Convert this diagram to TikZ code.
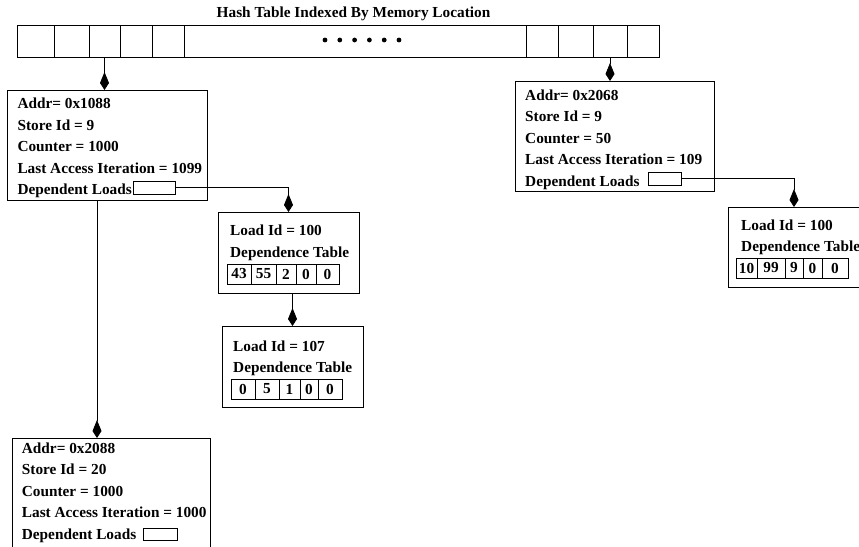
\documentclass[tikz,border=0pt]{standalone}
\usepackage{fontspec}
\setmainfont{Liberation Serif}
\usetikzlibrary{arrows.meta}
\newcommand{\lblfont}{\fontsize{15.3}{18}\selectfont\bfseries}

\tikzset{
  box/.style={draw, line width=0.8pt, inner sep=0pt, outer sep=0pt, anchor=north west},
  slot/.style={draw, line width=0.8pt, inner sep=0pt, outer sep=0pt, anchor=north west},
  tcell/.style={draw, line width=0.8pt, inner sep=0pt, outer sep=0pt, minimum height=20pt, font=\lblfont},
  txt/.style={anchor=base west, inner sep=0pt, font=\lblfont},
  link/.style={draw, line width=0.8pt},
  ptr/.style={link, -{Kite[length=18pt,width=9pt,inset=11pt]}},
}

\begin{document}
\begin{tikzpicture}[x=1pt,y=-1pt]
\useasboundingbox (0,0) rectangle (859,546);

% title of the hash table
\node[anchor=base, inner sep=0pt, font=\lblfont] (title) at (353.5,17) {Hash Table Indexed By Memory Location};

% hash table slots
\node[slot, minimum width=37pt, minimum height=32pt] (c1) at (17,25) {};
\node[slot, minimum width=35pt, minimum height=32pt] (c2) at (54,25) {};
\node[slot, minimum width=31pt, minimum height=32pt] (c3) at (89,25) {};
\node[slot, minimum width=32pt, minimum height=32pt] (c4) at (120,25) {};
\node[slot, minimum width=32pt, minimum height=32pt] (c5) at (152,25) {};
\node[slot, minimum width=342pt, minimum height=32pt] (mid) at (184,25) {};
\node[slot, minimum width=32pt, minimum height=32pt] (c6) at (526,25) {};
\node[slot, minimum width=35pt, minimum height=32pt] (c7) at (558,25) {};
\node[slot, minimum width=34pt, minimum height=32pt] (c8) at (593,25) {};
\node[slot, minimum width=32pt, minimum height=32pt] (c9) at (627,25) {};
\foreach \i in {0,...,5}
  \fill (325+14.8*\i,40) circle (2.4pt);

% store entries
\node[box, minimum width=200pt, minimum height=110pt] (b1) at (7,90) {};
\node[txt] (b1a) at (17.3,108.7) {Addr= 0x1088};
\node[txt] (b1b) at (17.3,130.2) {Store Id = 9};
\node[txt] (b1c) at (17.3,151.7) {Counter = 1000};
\node[txt] (b1d) at (17.3,173.2) {Last Access Iteration = 1099};
\node[txt] (b1e) at (17.3,194.7) {Dependent Loads};
\node[box, minimum width=42pt, minimum height=13pt] (d1) at (133,181) {};

\node[box, minimum width=199pt, minimum height=110pt] (b2) at (515,81) {};
\node[txt] (b2a) at (525,100.3) {Addr= 0x2068};
\node[txt] (b2b) at (525,121.8) {Store Id = 9};
\node[txt] (b2c) at (525,143.3) {Counter = 50};
\node[txt] (b2d) at (525,164.8) {Last Access Iteration = 109};
\node[txt] (b2e) at (525,186.3) {Dependent Loads};
\node[box, minimum width=33pt, minimum height=13pt] (d2) at (648,172) {};

\node[box, minimum width=198pt, minimum height=112pt] (b4) at (12,438) {};
\node[txt] (b4a) at (21.7,453.3) {Addr= 0x2088};
\node[txt] (b4b) at (21.7,474.8) {Store Id = 20};
\node[txt] (b4c) at (21.7,496.3) {Counter = 1000};
\node[txt] (b4d) at (21.7,517.8) {Last Access Iteration = 1000};
\node[txt] (b4e) at (21.7,539.3) {Dependent Loads};
\node[box, minimum width=34pt, minimum height=12pt] (d4) at (143,528) {};

% load entries
\node[box, minimum width=141pt, minimum height=81pt] (l1) at (218,212) {};
\node[txt] (l1a) at (230,235) {Load Id = 100};
\node[txt] (l1b) at (230,257) {Dependence Table};
\node[tcell, minimum width=24pt] (t1a) at (239,274) {43};
\node[tcell, minimum width=25pt] (t1b) at (263.5,274) {55};
\node[tcell, minimum width=20pt] (t1c) at (286,274) {2};
\node[tcell, minimum width=20pt] (t1d) at (306,274) {0};
\node[tcell, minimum width=23pt] (t1e) at (327.5,274) {0};

\node[box, minimum width=141pt, minimum height=81pt] (l2) at (222,326) {};
\node[txt] (l2a) at (233,351) {Load Id = 107};
\node[txt] (l2b) at (233,372) {Dependence Table};
\node[tcell, minimum width=24pt] (t2a) at (243,389) {0};
\node[tcell, minimum width=24pt] (t2b) at (267,389) {5};
\node[tcell, minimum width=21pt] (t2c) at (289.5,389) {1};
\node[tcell, minimum width=18pt] (t2d) at (309,389) {0};
\node[tcell, minimum width=24pt] (t2e) at (330,389) {0};

\node[box, minimum width=150pt, minimum height=80pt] (l3) at (728,207) {};
\node[txt] (l3a) at (741,230.5) {Load Id = 100};
\node[txt] (l3b) at (741,251.5) {Dependence Table};
\node[tcell, minimum width=21pt] (t3a) at (746.5,268) {10};
\node[tcell, minimum width=28pt] (t3b) at (771,268) {99};
\node[tcell, minimum width=18pt] (t3c) at (794,268) {9};
\node[tcell, minimum width=19pt] (t3d) at (812.5,268) {0};
\node[tcell, minimum width=26pt] (t3e) at (835,268) {0};

% pointers
\coordinate (j1) at (97,200);
\coordinate (k3) at (794,207);
\draw[ptr] (c3.south) -- (c3.south |- b1.north);
\draw[ptr] (c8.south) -- (c8.south |- b2.north);
\draw[ptr] (d1.east) -| (l1.north);
\draw[ptr] (l1.south -| l2.north) -- (l2.north);
\draw[ptr] (j1) -- (j1 |- b4.north);
\draw[ptr] (d2.east) -| (k3);
\end{tikzpicture}
\end{document}
